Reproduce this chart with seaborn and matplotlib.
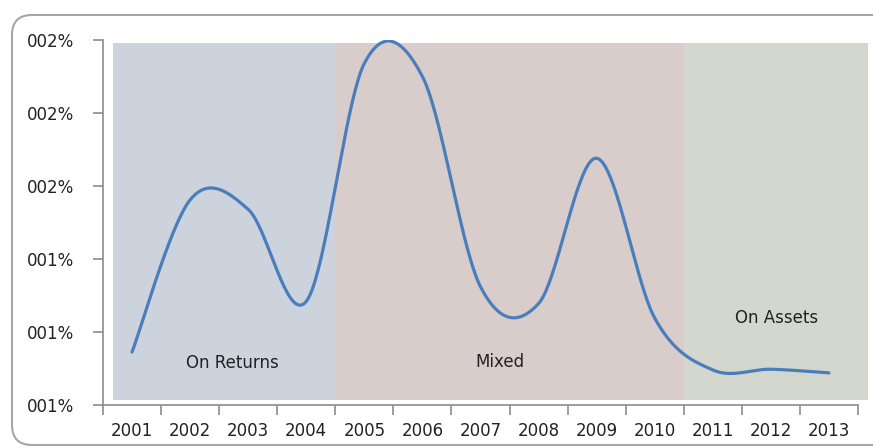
import numpy as np
import pandas as pd
import matplotlib
matplotlib.use("Agg")
import matplotlib.pyplot as plt
import seaborn as sns
from matplotlib.patches import FancyBboxPatch
from matplotlib.transforms import IdentityTransform

# ---------------- data ----------------
years = ["2001", "2002", "2003", "2004", "2005", "2006", "2007",
         "2008", "2009", "2010", "2011", "2012", "2013"]
values = [0.01145, 0.01562, 0.01536, 0.01284, 0.01936, 0.01900, 0.01324,
          0.01278, 0.01676, 0.01238, 0.01096, 0.01098, 0.01088]
ytick_values = [0.010, 0.012, 0.014, 0.016, 0.018, 0.020]
ytick_labels = ["001%", "001%", "001%", "002%", "002%", "002%"]
region_names = ["On Returns", "Mixed", "On Assets"]
region_first = ["2001", "2005", "2011"]
region_last = ["2004", "2010", "2013"]

# ---------------- style ----------------
sns.set_theme(style="white")
plt.rcParams["font.family"] = ["DejaVu Sans"]
region_colors = ["#CDD3DC", "#D9CDCC", "#D4D7CE"]
line_color = "#4A7EBB"
spine_color = "#8C8C8C"

fig = plt.figure(figsize=(8.73, 4.48), dpi=100)
ax = fig.add_axes([103 / 873, 1 - 405 / 448, (858 - 103) / 873, (405 - 40) / 448])

# smooth (Excel-like Catmull-Rom) curve computed from the data points
xi = np.arange(len(years), dtype=float)
yi = np.array(values)
px = np.concatenate([[xi[0]], xi, [xi[-1]]])
py = np.concatenate([[yi[0]], yi, [yi[-1]]])
xs, ys = [], []
t = np.linspace(0, 1, 40)
for i in range(1, len(px) - 2):
    p0, p1, p2, p3 = (np.array([px[j], py[j]]) for j in (i - 1, i, i + 1, i + 2))
    c1 = p1 + (p2 - p0) / 6
    c2 = p2 - (p3 - p1) / 6
    b = ((1 - t) ** 3)[:, None] * p1 + (3 * (1 - t) ** 2 * t)[:, None] * c1 \
        + (3 * (1 - t) * t ** 2)[:, None] * c2 + (t ** 3)[:, None] * p2
    xs.extend(b[:, 0]); ys.extend(b[:, 1])
curve = pd.DataFrame({"x": xs, "y": ys})

# shaded regimes
n = len(years)
for k, (name, a, b_) in enumerate(zip(region_names, region_first, region_last)):
    left = years.index(a) - 0.5
    right = years.index(b_) + 0.5
    if k == 0:
        left += 0.17
    if k == len(region_names) - 1:
        right += 0.17
    ax.axvspan(left, right, ymin=0.014, ymax=0.992, color=region_colors[k],
               lw=0, zorder=0, clip_on=False)

sns.lineplot(data=curve, x="x", y="y", ax=ax, color=line_color, lw=2.3,
             sort=False, zorder=3, solid_capstyle="round")

ax.set_xlim(-0.5, n - 0.5)
ax.set_ylim(ytick_values[0], ytick_values[-1])

# region labels
label_pos = [(1.72, 0.01115), (6.34, 0.01118), (11.1, 0.01238)]
for name, (lx, ly) in zip(region_names, label_pos):
    ax.text(lx, ly, name, ha="center", va="center", fontsize=12,
            color="#222222")

# axes styling
for s in ["top", "right"]:
    ax.spines[s].set_visible(False)
for s in ["left", "bottom"]:
    ax.spines[s].set_color(spine_color)
    ax.spines[s].set_linewidth(1.2)

ax.set_yticks(ytick_values)
ax.set_yticklabels(ytick_labels)
ax.set_xticks(np.arange(-0.5, n, 1.0))
ax.set_xticklabels([])
ax.set_xticks(xi, minor=True)
ax.set_xticklabels(years, minor=True)
ax.tick_params(axis="x", which="major", length=7, width=1.2, color=spine_color,
               direction="out", bottom=True)
ax.tick_params(axis="x", which="minor", length=0, pad=12, labelsize=12,
               labelcolor="#222222", bottom=True)
ax.tick_params(axis="y", length=7, width=1.2, color=spine_color, direction="out",
               left=True, pad=14, labelsize=12, labelcolor="#222222")
ax.set_xlabel("")
ax.set_ylabel("")
ax.grid(False)
ax.patch.set_alpha(0)

# rounded outer border
border = FancyBboxPatch((12, 3), 885, 430, boxstyle="round,pad=0,rounding_size=20",
                        transform=IdentityTransform(), fill=False,
                        edgecolor="#A6A6A6", lw=1.5, clip_on=False)
fig.patches.append(border)

fig.savefig("out.png", dpi=100)
